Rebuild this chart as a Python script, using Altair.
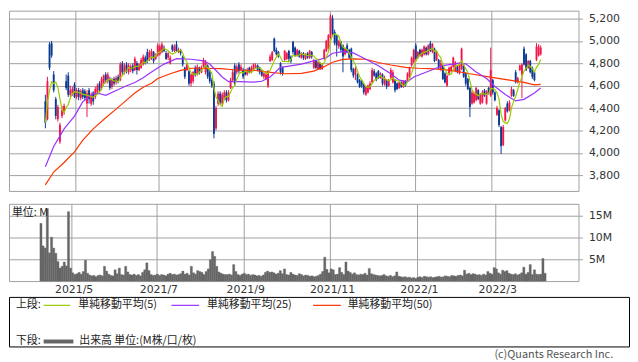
import altair as alt
import pandas as pd

# ---------------- data ----------------
month_idx = [15, 55, 96, 137, 178, 215]
month_labels = ["2021/5", "2021/7", "2021/9", "2021/11", "2022/1", "2022/3"]
price_ticks = [3800, 4000, 4200, 4400, 4600, 4800, 5000, 5200]
vol_ticks = [5, 10, 15]

open_ = [
    4460,4300,4970,4980,4700,4480,4300,4100,4330,4360,
    4640,4690,4520,4530,4610,4500,4560,4490,4560,4550,
    4440,4560,4440,4540,4500,4540,4620,4580,4620,4700,
    4640,4660,4590,4660,4630,4680,4650,4800,4720,4790,
    4720,4740,4780,4740,4800,4740,4760,4790,4850,4900,
    4830,4850,4900,4840,4870,4880,4900,4940,4890,4850,
    4800,4960,4910,4970,4900,4920,4860,4760,4740,4730,
    4620,4640,4760,4700,4760,4720,4770,4720,4780,4720,
    4650,4620,4220,4440,4530,4440,4480,4540,4470,4580,
    4650,4780,4720,4790,4740,4740,4730,4700,4760,4720,
    4740,4760,4780,4760,4730,4680,4660,4600,4820,4830,
    5020,4920,4900,4800,4760,4830,4840,4910,4860,4990,
    4940,4870,4910,4850,4890,4840,4890,4850,4900,4760,
    4820,4750,4800,4750,4840,4910,4930,5030,5200,5080,
    5050,4950,4990,4960,4880,4960,4920,4930,4750,4700,
    4700,4650,4640,4610,4520,4540,4570,4630,4730,4710,
    4730,4670,4700,4610,4650,4600,4670,4630,4650,4620,
    4580,4630,4590,4640,4640,4680,4780,4810,4960,4850,
    4920,4860,4880,4940,4880,4980,4900,4930,4830,4830,
    4740,4780,4710,4600,4700,4730,4770,4730,4770,4710,
    4750,4780,4710,4660,4580,4440,4450,4470,4560,4440,
    4450,4560,4440,4580,4510,4650,4540,4340,4380,4230,
    4070,4290,4440,4380,4510,4560,4720,4630,4740,4700,
    4930,4880,4760,4820,4760,4720,4830,4870,4880,
]
high = [
    4520,4680,4990,5000,4730,4500,4430,4270,4420,4440,
    4700,4720,4600,4590,4630,4580,4580,4570,4580,4570,
    4560,4580,4540,4550,4590,4620,4640,4680,4700,4720,
    4720,4680,4670,4680,4690,4700,4810,4820,4800,4810,
    4800,4790,4800,4860,4820,4800,4850,4880,4870,4930,
    4920,4930,4910,4890,4980,4970,4990,4960,4910,4900,
    4870,4970,4970,5000,4940,4930,4870,4770,4800,4740,
    4710,4730,4780,4790,4770,4780,4850,4830,4790,4740,
    4670,4640,4420,4550,4550,4540,4560,4560,4560,4670,
    4740,4800,4790,4810,4790,4760,4750,4760,4770,4780,
    4800,4800,4790,4770,4740,4720,4720,4740,4880,4910,
    5030,4940,4910,4810,4770,4920,4900,4920,4870,5000,
    4950,4930,4920,4900,4900,4890,4900,4920,4910,4840,
    4830,4820,4810,4800,4930,5010,5060,5240,5230,5100,
    5060,5010,5000,4970,4940,4980,4930,4940,4760,4770,
    4710,4660,4650,4620,4600,4610,4640,4760,4750,4720,
    4740,4720,4710,4690,4660,4660,4760,4740,4660,4630,
    4640,4640,4650,4650,4720,4770,4860,4930,4980,4910,
    4930,4930,4960,4950,4970,5000,4980,4940,4910,4840,
    4830,4790,4720,4700,4770,4780,4860,4820,4780,4810,
    4940,4790,4720,4670,4590,4560,4540,4590,4570,4530,
    4560,4570,4560,4590,4940,4660,4550,4420,4390,4240,
    4250,4410,4460,4470,4590,4570,4740,4680,4790,4800,
    4950,4890,4830,4830,4770,4730,4980,4970,4960,
]
low = [
    4220,4290,4740,4850,4540,4300,4280,4080,4310,4340,
    4560,4500,4500,4510,4490,4480,4470,4470,4480,4470,
    4320,4440,4420,4430,4480,4520,4540,4560,4600,4620,
    4620,4560,4570,4600,4610,4620,4640,4700,4700,4710,
    4700,4720,4710,4730,4700,4730,4750,4780,4790,4800,
    4820,4830,4800,4830,4860,4870,4890,4900,4830,4830,
    4790,4900,4900,4900,4890,4870,4770,4660,4730,4600,
    4590,4620,4680,4690,4700,4710,4750,4700,4660,4620,
    4580,4130,4200,4420,4430,4420,4470,4450,4460,4570,
    4640,4600,4700,4710,4730,4660,4690,4690,4710,4710,
    4730,4750,4730,4700,4680,4660,4650,4580,4810,4820,
    4900,4870,4850,4700,4690,4820,4830,4820,4800,4880,
    4860,4860,4850,4840,4830,4830,4840,4840,4840,4750,
    4750,4740,4740,4740,4830,4900,4920,5020,5040,4960,
    4860,4930,4900,4720,4870,4890,4840,4720,4670,4650,
    4620,4580,4580,4520,4510,4530,4560,4620,4680,4640,
    4660,4660,4600,4600,4570,4590,4660,4620,4540,4560,
    4570,4580,4580,4590,4630,4670,4770,4800,4830,4840,
    4860,4850,4870,4870,4870,4900,4890,4810,4820,4740,
    4730,4650,4620,4590,4690,4720,4760,4720,4710,4700,
    4740,4670,4600,4560,4320,4430,4440,4460,4470,4430,
    4440,4500,4430,4520,4500,4520,4460,4330,4230,3990,
    4060,4280,4360,4370,4500,4500,4620,4620,4730,4490,
    4780,4730,4750,4710,4660,4640,4820,4860,4870,
]
close = [
    4270,4640,4760,4870,4560,4330,4410,4250,4380,4420,
    4580,4520,4560,4570,4500,4560,4500,4550,4500,4490,
    4530,4480,4520,4460,4570,4600,4560,4660,4690,4650,
    4700,4580,4650,4620,4670,4640,4790,4720,4780,4730,
    4780,4770,4730,4840,4740,4790,4830,4860,4800,4820,
    4900,4910,4820,4870,4960,4950,4970,4910,4840,4890,
    4850,4920,4950,4910,4920,4890,4790,4680,4790,4620,
    4700,4720,4700,4770,4720,4760,4830,4810,4680,4640,
    4600,4170,4400,4530,4450,4520,4540,4470,4540,4650,
    4720,4620,4770,4730,4770,4680,4700,4740,4720,4760,
    4790,4780,4740,4720,4690,4710,4700,4730,4860,4900,
    4910,4880,4860,4720,4710,4910,4890,4840,4820,4900,
    4870,4920,4860,4890,4850,4880,4850,4910,4860,4830,
    4760,4810,4750,4790,4920,5000,5050,5220,5060,4980,
    4960,5000,4920,4860,4930,4900,4850,4740,4690,4750,
    4630,4590,4600,4540,4590,4600,4620,4740,4690,4650,
    4670,4710,4620,4670,4590,4640,4740,4720,4560,4570,
    4630,4590,4640,4600,4710,4760,4850,4920,4840,4900,
    4870,4920,4950,4880,4960,4910,4970,4820,4900,4760,
    4800,4660,4630,4690,4760,4770,4850,4810,4720,4800,
    4930,4680,4620,4570,4410,4540,4530,4580,4480,4520,
    4540,4510,4550,4530,4740,4540,4470,4400,4250,4060,
    4230,4400,4370,4450,4570,4510,4630,4670,4780,4790,
    4790,4740,4820,4720,4680,4650,4950,4950,4940,
]
volume = [  # millions
    13.3,8.1,7.6,16.7,6.5,10.1,7.6,6.4,4.5,3.0,
    3.4,4.4,3.5,16.0,3.0,1.9,1.5,1.7,2.0,1.6,
    2.2,4.8,1.8,1.4,1.2,1.3,1.0,1.3,1.4,1.2,
    3.4,2.3,1.6,1.3,1.2,2.6,1.7,3.0,1.5,1.4,
    3.4,2.1,1.5,1.4,1.6,1.3,1.5,1.2,2.0,2.6,
    4.2,2.4,1.5,1.3,1.4,1.6,1.3,1.5,1.4,1.2,
    1.6,1.8,1.5,1.6,1.4,1.5,1.7,2.3,1.6,1.8,
    1.4,3.4,1.9,1.6,2.4,2.2,2.0,1.5,2.2,2.8,
    4.9,6.8,5.7,3.4,2.1,1.8,1.6,1.5,1.5,1.6,
    1.4,3.8,2.2,1.5,1.3,1.6,1.8,1.5,1.6,1.3,
    1.5,1.4,1.2,1.3,1.1,1.4,2.0,2.3,2.0,2.1,
    1.9,1.6,1.8,2.4,1.7,2.8,1.5,1.4,2.0,1.6,
    1.4,1.3,1.7,1.5,1.2,1.4,1.3,1.1,1.2,1.0,
    1.1,1.3,1.6,2.2,5.5,2.7,1.9,2.8,2.6,1.5,
    1.6,3.1,2.0,1.5,4.4,2.3,2.0,1.6,1.9,1.5,
    1.4,1.6,1.5,1.8,1.4,2.9,1.7,1.5,1.4,1.3,
    1.2,1.3,1.5,1.2,1.1,1.3,1.0,1.2,2.1,1.1,
    1.0,0.9,1.0,0.8,0.9,0.7,0.8,0.6,0.9,1.0,
    0.8,1.1,1.0,0.9,1.0,0.8,0.9,1.0,1.1,0.9,
    1.0,1.2,1.1,1.0,1.3,1.2,1.1,1.3,1.4,1.2,
    2.5,1.6,1.8,1.5,1.7,1.6,1.4,1.5,1.3,1.6,
    1.4,2.2,1.8,1.6,3.1,2.8,1.9,1.6,2.5,2.2,
    2.4,1.8,1.6,1.5,1.7,1.4,1.6,1.9,3.2,1.6,
    2.0,3.8,1.5,2.6,1.6,1.5,1.6,5.2,1.8,
]
ma25_idx = [0,4,9,14,18,23,26,29,34,39,43,47,51,57,63,70,76,79,82,85,88,93,100,104,108,
            113,117,123,129,135,138,143,148,154,160,166,170,174,177,181,185,191,199,202,
            207,212,216,221,226,230,235,238]
ma25_val = [3877,4057,4214,4329,4457,4529,4530,4514,4557,4600,4629,4671,4722,4793,4842,4836,
            4822,4793,4736,4678,4636,4636,4632,4640,4678,4764,4775,4793,4822,4850,4890,4905,
            4893,4836,4779,4707,4650,4636,4678,4707,4736,4779,4802,4795,4722,4664,4593,4521,
            4464,4478,4535,4579]
ma50_idx = [0,4,9,14,18,23,29,34,39,43,47,51,54,60,65,70,76,84,92,101,107,115,123,129,134,
            138,143,148,154,160,166,173,179,187,195,204,213,223,230,235,238]
ma50_val = [3714,3829,3914,4009,4114,4214,4314,4391,4471,4534,4586,4622,4665,4707,4737,4756,
            4756,4752,4740,4736,4721,4707,4710,4730,4770,4810,4835,4840,4836,4807,4785,4764,
            4756,4750,4737,4707,4679,4650,4630,4608,4612]

row_labels = ["上段:", "下段:"]
ma_labels = ["単純移動平均(5)", "単純移動平均(25)", "単純移動平均(50)"]
vol_label = "出来高 単位:(M株/口/枚)"
unit_label = "単位: M"
copyright_label = "(c)Quants Research Inc."

# ---------------- styling ----------------
FONT = "DejaVu Sans"
JFONT = "Noto Sans CJK JP"
GRID = "#a0a0a0"
UP, DOWN = "#f2164a", "#0c3a93"
C5, C25, C50 = "#99cc00", "#9933ff", "#ff3300"
W = 575

df = pd.DataFrame({"i": list(range(len(close))), "O": open_, "H": high,
                   "L": low, "C": close, "V": volume})

xscale = alt.Scale(domain=[-14.6, 254.3], nice=False, zero=False)
yscale = alt.Scale(domain=[3660, 5270], nice=False, zero=False)

x_axis_top = alt.Axis(values=month_idx, grid=True, gridColor=GRID, labels=False,
                      ticks=False, domain=False, title=None)
y_axis_top = alt.Axis(orient="right", values=price_ticks, format=",d", grid=True,
                      gridColor=GRID, tickColor=GRID, tickSize=4, labelPadding=6,
                      domain=False, title=None, labelFont=FONT, labelFontSize=11,
                      labelColor="#333")

base = alt.Chart(df).transform_calculate(
    xc="datum.i + 0.5",
    col=f"datum.C >= datum.O ? '{UP}' : '{DOWN}'")

X = alt.X("xc:Q", scale=xscale, axis=x_axis_top)

wick = base.mark_rule(strokeWidth=1).encode(
    x=X, y=alt.Y("L:Q", scale=yscale, axis=y_axis_top), y2="H:Q",
    color=alt.Color("col:N", scale=None))
body = base.mark_bar(size=1.9).encode(
    x=X, y=alt.Y("O:Q", scale=yscale, axis=y_axis_top), y2="C:Q",
    color=alt.Color("col:N", scale=None))
ma5 = base.transform_window(
    ma5="mean(C)", frame=[-4, 0], sort=[alt.SortField("i")]
).mark_line(color=C5, strokeWidth=1.2).encode(
    x=X, y=alt.Y("ma5:Q", scale=yscale, axis=y_axis_top), order="i:Q")

ma25 = alt.Chart(pd.DataFrame({"idx": ma25_idx, "v": ma25_val})).transform_calculate(
    xc="datum.idx + 0.5").mark_line(color=C25, strokeWidth=1.2).encode(
    x=X, y=alt.Y("v:Q", scale=yscale, axis=y_axis_top), order="idx:Q")
ma50 = alt.Chart(pd.DataFrame({"idx": ma50_idx, "v": ma50_val})).transform_calculate(
    xc="datum.idx + 0.5").mark_line(color=C50, strokeWidth=1.2).encode(
    x=X, y=alt.Y("v:Q", scale=yscale, axis=y_axis_top), order="idx:Q")

top = alt.layer(wick, body, ma50, ma25, ma5).properties(width=W, height=182)

# volume panel
label_expr = " : ".join(f"datum.value == {i} ? '{lab}'"
                        for i, lab in zip(month_idx, month_labels)) + " : ''"
vx_axis = alt.Axis(values=month_idx, labelExpr=label_expr, grid=True, gridColor=GRID,
                   ticks=False, domain=False, title=None, labelFont=FONT,
                   labelFontSize=11, labelColor="#333", labelPadding=3, labelOffset=2)
vy_axis = alt.Axis(orient="right", values=vol_ticks, labelExpr="datum.value + 'M'",
                   grid=True, gridColor=GRID, tickColor=GRID, tickSize=4, labelPadding=6,
                   domain=False, title=None, labelFont=FONT, labelFontSize=11,
                   labelColor="#333")
vbars = alt.Chart(df).transform_calculate(
    x0="datum.i", x1="datum.i + 1"
).mark_bar(color="#666666", stroke="#666666", strokeWidth=0.4).encode(
    x=alt.X("x0:Q", scale=xscale, axis=vx_axis), x2="x1:Q",
    y=alt.Y("V:Q", scale=alt.Scale(domain=[0, 17.8], nice=False), axis=vy_axis),
    y2=alt.datum(0))
unit = alt.Chart(pd.DataFrame({"t": [unit_label]})).mark_text(
    align="left", baseline="middle", font=JFONT, fontSize=11, color="#222"
).encode(x=alt.value(3), y=alt.value(9.5), text="t:N")
vol = alt.layer(vbars, unit).properties(width=W, height=78)


# legend box
def txt(s, x, y, align="left", color="#222"):
    return alt.Chart(pd.DataFrame({"t": [s]})).mark_text(
        align=align, baseline="middle", font=JFONT, fontSize=11, color=color
    ).encode(x=alt.value(x), y=alt.value(y), text="t:N")


def seg(x1, x2, y, color, w):
    return alt.Chart(pd.DataFrame({"a": [0]})).mark_rule(
        color=color, strokeWidth=w).encode(x=alt.value(x1), x2=alt.value(x2), y=alt.value(y))


r1, r2 = 8.5, 45
legend = alt.layer(
    txt(row_labels[0], 7, r1),
    seg(35, 62, r1, C5, 1.2), txt(ma_labels[0], 70, r1),
    seg(164, 192, r1, C25, 1.2), txt(ma_labels[1], 200, r1),
    seg(307, 335, r1, C50, 1.2), txt(ma_labels[2], 342, r1),
    txt(row_labels[1], 7, r2),
    seg(35, 65, r2, "#666666", 4), txt(vol_label, 71, r2),
    txt(copyright_label, 610, 59, align="right", color="#555"),
).properties(width=626, height=50,
             view=alt.ViewBackground(stroke="black", strokeWidth=1))

chart = alt.vconcat(
    alt.vconcat(top, vol, spacing=11), legend, spacing=0
).properties(padding=0).configure(background="white").configure_view(
    stroke=GRID, strokeWidth=1)

chart.save("out.html", embed_options={"renderer": "svg", "actions": False})
